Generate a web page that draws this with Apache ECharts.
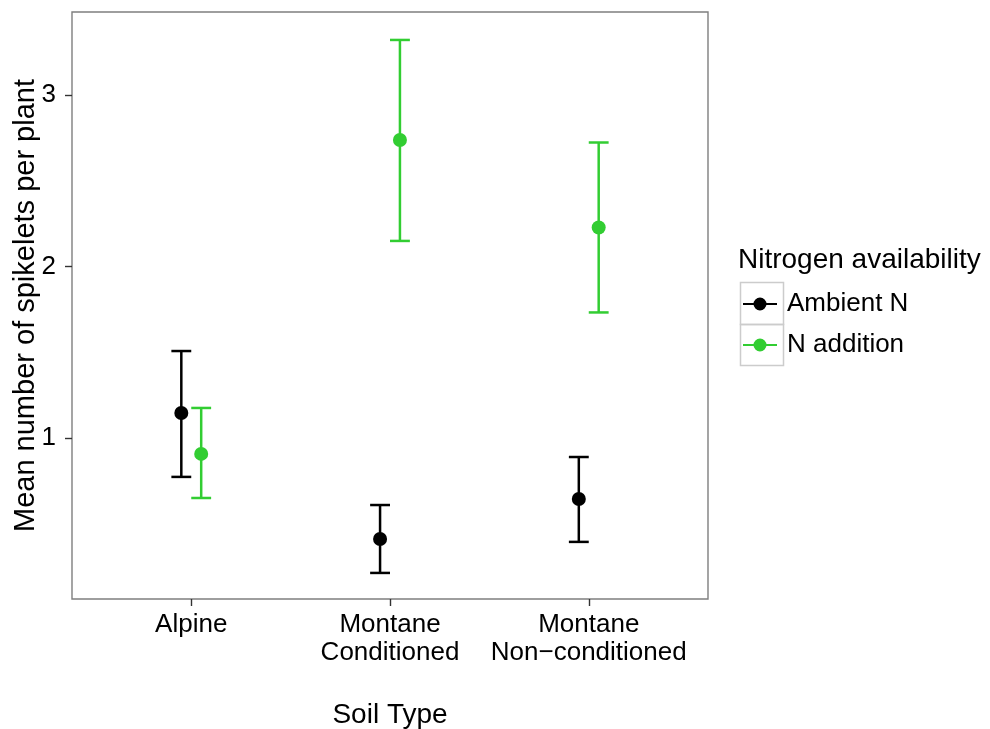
<!DOCTYPE html>
<html>
<head>
<meta charset="utf-8">
<script src="https://cdn.jsdelivr.net/npm/echarts@6/dist/echarts.min.js"></script>
<style>
  html, body { margin: 0; padding: 0; background: #fff; }
  #chart { width: 990px; height: 729px; }
</style>
</head>
<body>
<div id="chart"></div>
<script>
// soil types on the x axis (positions 1, 2, 3)
const soilTypes = ['Alpine', 'Montane\nConditioned', 'Montane\nNon\u2212conditioned']
const groups = ['Ambient N', 'N addition']
const groupColors = ['#000000', '#32cd32']

// mean and error bar limits, one entry per soil type
const ambientMean = [1.146, 0.411, 0.644]
const ambientLow = [0.773, 0.213, 0.394]
const ambientHigh = [1.507, 0.609, 0.889]

const additionMean = [0.907, 2.738, 2.227]
const additionLow = [0.650, 2.149, 1.732]
const additionHigh = [1.175, 3.321, 2.723]

const yTicks = [1, 2, 3]
const xTicks = [1, 2, 3]

const dodge = 0.05
const capHalf = 0.05
const font = 'Liberation Sans, Arial, Helvetica, sans-serif'

function rows(mean, low, high, offset){
	return mean.map((m, i) => [i + 1 + offset, m, low[i], high[i]])
}

const groupData = [
	rows(ambientMean, ambientLow, ambientHigh, -dodge),
	rows(additionMean, additionLow, additionHigh, dodge)
]

function errorBar(color){
	return function(params, api){
		const x = api.value(0)
		const lo = api.coord([x, api.value(2)])
		const hi = api.coord([x, api.value(3)])
		const l = api.coord([x - capHalf, api.value(2)])[0]
		const r = api.coord([x + capHalf, api.value(2)])[0]
		const style = { stroke: color, lineWidth: 2.5, fill: null }
		return {
			type: 'group',
			children: [
				{ type: 'line', shape: { x1: lo[0], y1: lo[1], x2: hi[0], y2: hi[1] }, style: style },
				{ type: 'line', shape: { x1: l, y1: hi[1], x2: r, y2: hi[1] }, style: style },
				{ type: 'line', shape: { x1: l, y1: lo[1], x2: r, y2: lo[1] }, style: style }
			]
		}
	}
}

const series = []
groups.forEach((name, gi) => {
	series.push({
		name: name,
		type: 'custom',
		renderItem: errorBar(groupColors[gi]),
		data: groupData[gi],
		encode: { x: 0, y: [1, 2, 3] },
		itemStyle: { color: groupColors[gi] },
		silent: true,
		z: 2
	})
	series.push({
		name: name,
		type: 'scatter',
		data: groupData[gi].map(d => [d[0], d[1]]),
		symbol: 'circle',
		symbolSize: 14,
		itemStyle: { color: groupColors[gi], opacity: 1 },
		z: 3
	})
})

const chart = echarts.init(document.getElementById('chart'), null, { renderer: 'canvas' })

const option = {
	animation: false,
	backgroundColor: '#fff',
	textStyle: { fontFamily: font },
	grid: {
		left: 72,
		right: 282,
		top: 12,
		bottom: 130,
		outerBoundsMode: 'none',
		containLabel: false,
		show: true,
		borderColor: '#7f7f7f',
		borderWidth: 1.4,
		backgroundColor: '#fff'
	},
	xAxis: {
		type: 'value',
		min: 0.4,
		max: 3.6,
		name: 'Soil Type',
		nameLocation: 'middle',
		nameGap: 102,
		nameMoveOverlap: false,
		nameTextStyle: { fontSize: 28, color: '#000', fontFamily: font },
		axisLine: { show: false },
		splitLine: { show: false },
		axisTick: { show: true, customValues: xTicks, length: 7, lineStyle: { color: '#333', width: 1.4 } },
		axisLabel: {
			customValues: xTicks,
			margin: 12,
			fontSize: 26,
			lineHeight: 28,
			color: '#000',
			fontFamily: font,
			formatter: v => soilTypes[Math.round(v) - 1] || ''
		}
	},
	yAxis: {
		type: 'value',
		min: 0.061,
		max: 3.484,
		name: 'Mean number of spikelets per plant',
		nameLocation: 'middle',
		nameGap: 32,
		nameMoveOverlap: false,
		nameTextStyle: { fontSize: 29, color: '#000', fontFamily: font },
		axisLine: { show: false },
		splitLine: { show: false },
		axisTick: { show: true, customValues: yTicks, length: 7, lineStyle: { color: '#333', width: 1.4 } },
		axisLabel: {
			customValues: yTicks,
			margin: 16,
			fontSize: 26,
			color: '#000',
			fontFamily: font
		}
	},
	legend: {
		data: groups.map((g, i) => ({
			name: g,
			icon: 'path://M0,5.5 L34,5.5 L34,7.5 L0,7.5 Z M17,0 A6.5,6.5 0 1,1 17,13 A6.5,6.5 0 1,1 17,0 Z',
			itemStyle: { color: groupColors[i] }
		})),
		orient: 'vertical',
		left: 743,
		top: 291,
		padding: 0,
		itemWidth: 34,
		itemHeight: 13,
		itemGap: 15,
		selectedMode: false,
		textStyle: { fontSize: 26, color: '#000', fontFamily: font, lineHeight: 26, padding: [0, 0, 0, 5] }
	},
	graphic: [
		{ type: 'text', left: 738, top: 246, style: { text: 'Nitrogen availability', fontSize: 28, fill: '#000', fontFamily: font } },
		{ type: 'rect', left: 738, top: 280, shape: { width: 43, height: 42 }, style: { fill: null, stroke: '#cccccc', lineWidth: 1.5 }, z: -1 },
		{ type: 'rect', left: 738, top: 322, shape: { width: 43, height: 41 }, style: { fill: null, stroke: '#cccccc', lineWidth: 1.5 }, z: -1 }
	],
	series: series
}

chart.setOption(option)
</script>
</body>
</html>
